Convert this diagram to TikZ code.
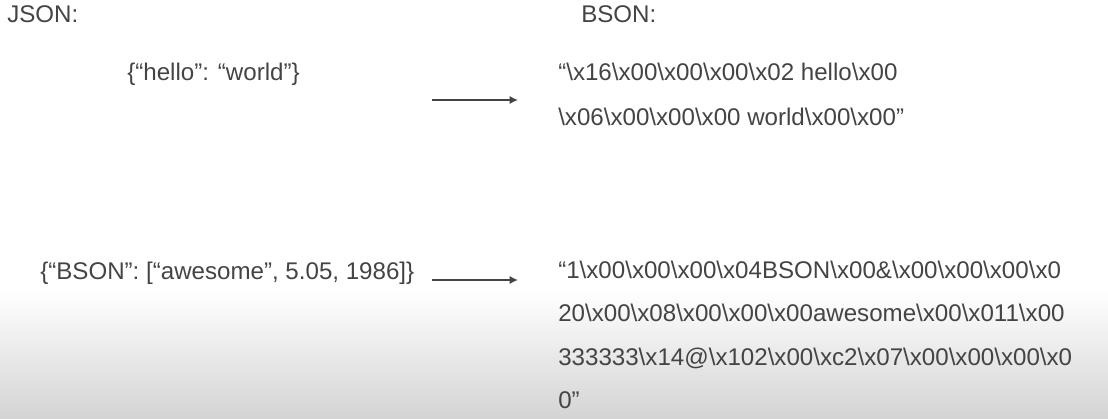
\documentclass[tikz,border=0pt]{standalone}
\usepackage{fontspec}
\setmainfont{Liberation Sans}
\usetikzlibrary{arrows.meta}
\definecolor{txtgray}{HTML}{444444}
\def\bs{\textbackslash}

\begin{document}
\begin{tikzpicture}[x=0.025cm,y=-0.025cm,txt/.style={anchor=base west,inner sep=0pt,text=txtgray,font=\fontsize{17.15}{20}\selectfont},conv/.style={draw=txtgray,line width=1.3pt,-{Latex[length=6pt,width=6pt]}}]
\def\dya{45};
\def\dyb{43.5};
\def\xb{558};

\useasboundingbox (0,0) rectangle (1108,419);
\shade[top color=white,bottom color=gray!34] (0,290) rectangle (1108,419);

\node[txt] (J) at (7,23) {JSON:};
\node[txt] (B) at (581,23) {BSON:};

\node[txt] (J1) at (127,81) {\{“hello”: “world”\}};
\node[txt] (B1a) at (\xb,81) {“\bs x16\bs x00\bs x00\bs x00\bs x02 hello\bs x00};
\node[txt] (B1b) at (\xb,81+\dya) {\bs x06\bs x00\bs x00\bs x00 world\bs x00\bs x00”};
\coordinate (a1s) at (432,100);
\coordinate (a1e) at (518,100);
\draw[conv] (a1s) -- (a1e);

\node[txt] (J2) at (40,279) {\{“BSON”: [“awesome”, 5.05, 1986]\}};
\node[txt] (B2a) at (\xb,278) {“1\bs x00\bs x00\bs x00\bs x04BSON\bs x00\&\bs x00\bs x00\bs x00\bs x0};
\node[txt] (B2b) at (\xb,278+\dyb) {20\bs x00\bs x08\bs x00\bs x00\bs x00awesome\bs x00\bs x011\bs x00};
\node[txt] (B2c) at (\xb,278+2*\dyb) {333333\bs x14@\bs x102\bs x00\bs xc2\bs x07\bs x00\bs x00\bs x00\bs x0};
\node[txt] (B2d) at (\xb,278+3*\dyb) {0”};
\coordinate (a2s) at (432,280);
\coordinate (a2e) at (518,280);
\draw[conv] (a2s) -- (a2e);
\end{tikzpicture}
\end{document}
